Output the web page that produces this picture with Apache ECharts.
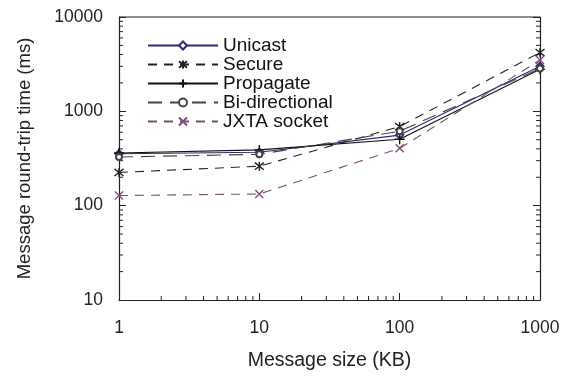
<!DOCTYPE html>
<html>
<head>
<meta charset="utf-8">
<script src="https://cdn.jsdelivr.net/npm/echarts@6/dist/echarts.min.js"></script>
<style>
  html, body { margin: 0; padding: 0; background: #fff; }
  #chart { width: 567px; height: 376px; }
</style>
</head>
<body>
<div id="chart"></div>
<script>
// message size (KB) and round-trip time (ms)
var sizes = [1, 10, 100, 1000];
var unicast = [355, 368, 560, 3000];
var secure = [225, 262, 690, 4200];
var propagate = [362, 390, 505, 2800];
var bidirectional = [328, 350, 615, 2850];
var jxta = [128, 133, 405, 3500];

var xTicks = [1, 10, 100, 1000];
var yTicks = [10, 100, 1000, 10000];
var xMinor = [2, 3, 4, 5, 6, 7, 8, 9, 20, 30, 40, 50, 60, 70, 80, 90, 200, 300, 400, 500, 600, 700, 800, 900];
var yMinor = [20, 30, 40, 50, 60, 70, 80, 90, 200, 300, 400, 500, 600, 700, 800, 900, 2000, 3000, 4000, 5000, 6000, 7000, 8000, 9000];

var font = "'Liberation Sans', Arial, sans-serif";

function pairs(ys) {
    return sizes.map(function (x, i) { return [x, ys[i]]; });
}

var plusPath = 'path://M0,5L10,5M5,0L5,10';
var starPath = 'path://M1,1L9,9M9,1L1,9M5,0L5,10';
var crossPath = 'path://M0,0L10,10M10,0L0,10';

function lineSeries(name, ys, color, type, symbol, size, fill) {
    return {
        name: name,
        type: 'line',
        data: pairs(ys),
        symbol: symbol,
        symbolSize: size,
        showSymbol: true,
        clip: false,
        lineStyle: { color: color, width: 1.1, type: type },
        itemStyle: { color: fill || color, borderColor: color, borderWidth: 1.4 },
        emphasis: { disabled: true },
        z: 3
    };
}

var chart = echarts.init(document.getElementById('chart'));

var option = {
    backgroundColor: '#fff',
    animation: false,
    grid: { left: 119, right: 27, top: 17, bottom: 73 },
    legend: {
        orient: 'vertical',
        left: 142,
        top: 31,
        itemWidth: 70,
        itemHeight: 10,
        itemGap: 0,
        textStyle: { fontFamily: font, fontSize: 19, color: '#111', lineHeight: 18.3 },
        data: ['Unicast', 'Secure', 'Propagate', 'Bi-directional', 'JXTA socket']
    },
    xAxis: {
        type: 'log',
        logBase: 10,
        min: 1,
        max: 1000,
        name: 'Message size (KB)',
        nameLocation: 'middle',
        nameGap: 51,
        nameTextStyle: { fontFamily: font, fontSize: 19.5, color: '#222' },
        axisLine: { show: true, lineStyle: { color: '#222', width: 1.2 } },
        axisTick: { show: true, inside: true, length: 7, lineStyle: { color: '#222' } },
        axisLabel: { fontFamily: font, fontSize: 17.5, color: '#222', margin: 19,
            formatter: function (v) { return xTicks.indexOf(v) >= 0 ? String(v) : ''; } },
        splitLine: { show: false }
    },
    yAxis: [{
        type: 'log',
        logBase: 10,
        min: 10,
        max: 10000,
        name: 'Message round-trip time (ms)',
        nameLocation: 'middle',
        nameGap: 85,
        nameTextStyle: { fontFamily: font, fontSize: 18.5, color: '#222' },
        axisLine: { show: true, lineStyle: { color: '#222', width: 1.2 } },
        axisTick: { show: true, inside: true, length: 7, lineStyle: { color: '#222' } },
        axisLabel: { fontFamily: font, fontSize: 17.5, color: '#222', margin: 16,
            formatter: function (v) { return yTicks.indexOf(v) >= 0 ? String(v) : ''; } },
        splitLine: { show: false }
    }, {
        type: 'log',
        logBase: 10,
        min: 10,
        max: 10000,
        position: 'right',
        axisLine: { show: true, lineStyle: { color: '#222', width: 1.2 } },
        axisTick: { show: true, inside: true, length: 7, lineStyle: { color: '#222' } },
        axisLabel: { show: false },
        splitLine: { show: false }
    }],
    series: [
        lineSeries('Unicast', unicast, '#2e2a6e', 'solid', 'emptyDiamond', 7),
        lineSeries('Secure', secure, '#222', [9, 7], starPath, 9, '#fff'),
        lineSeries('Propagate', propagate, '#111', 'solid', plusPath, 10, '#fff'),
        lineSeries('Bi-directional', bidirectional, '#444', [14, 8], 'emptyCircle', 6),
        lineSeries('JXTA socket', jxta, '#7d4f76', [9, 7], crossPath, 8, '#fff'),
        {
            // top border
            type: 'custom',
            silent: true,
            data: [[1, 10000]],
            renderItem: function (params, api) {
                var a = api.coord([1, 10000]);
                var b = api.coord([1000, 10000]);
                return { type: 'line', shape: { x1: a[0], y1: a[1], x2: b[0], y2: b[1] },
                    style: { stroke: '#222', lineWidth: 1.2 } };
            },
            z: 1
        },
        {
            // minor ticks on the x axis
            type: 'custom',
            silent: true,
            clip: false,
            data: xMinor.map(function (v) { return [v, 10]; }),
            renderItem: function (params, api) {
                var p = api.coord([api.value(0), 10]);
                return { type: 'line', shape: { x1: p[0], y1: p[1], x2: p[0], y2: p[1] - 4 },
                    style: { stroke: '#222', lineWidth: 1 } };
            },
            z: 1
        },
        {
            // minor ticks on both y axes
            type: 'custom',
            silent: true,
            clip: false,
            data: yMinor.map(function (v) { return [1, v]; }),
            renderItem: function (params, api) {
                var l = api.coord([1, api.value(1)]);
                var r = api.coord([1000, api.value(1)]);
                return { type: 'group', children: [
                    { type: 'line', shape: { x1: l[0], y1: l[1], x2: l[0] + 4, y2: l[1] },
                        style: { stroke: '#222', lineWidth: 1 } },
                    { type: 'line', shape: { x1: r[0], y1: r[1], x2: r[0] - 4, y2: r[1] },
                        style: { stroke: '#222', lineWidth: 1 } }
                ] };
            },
            z: 1
        }
    ]
};

chart.setOption(option);
</script>
</body>
</html>
